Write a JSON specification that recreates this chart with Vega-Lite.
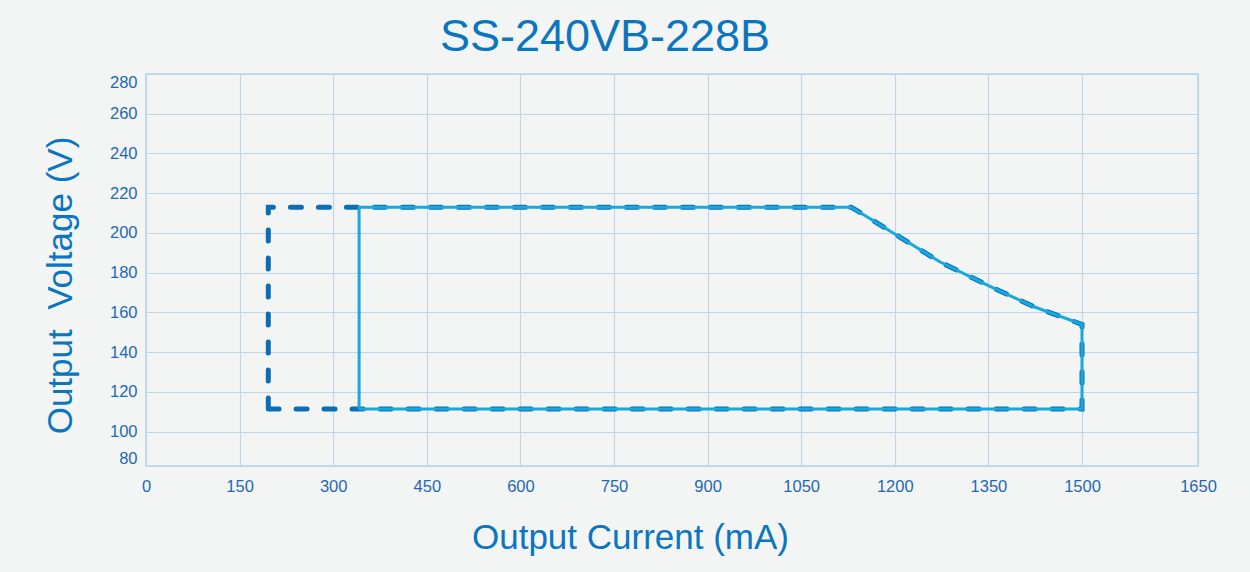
{
  "$schema": "https://vega.github.io/schema/vega-lite/v6.json",
  "width": 1052,
  "height": 392,
  "autosize": {"type": "none"},
  "padding": {"left": 146, "top": 74, "right": 52, "bottom": 106},
  "background": "#f3f5f5",
  "title": {
    "text": "SS-240VB-228B",
    "font": "Liberation Sans",
    "fontSize": 45,
    "fontWeight": "normal",
    "color": "#0b76bf",
    "anchor": "middle",
    "dx": -67,
    "dy": 44,
    "offset": 13,
    "baseline": "bottom"
  },
  "config": {
    "view": {"stroke": "#b9d1e5", "strokeWidth": 1.5},
    "axis": {
      "grid": true,
      "gridColor": "#bfd5e8",
      "gridWidth": 1.2,
      "domain": false,
      "ticks": false,
      "labelFont": "Liberation Sans",
      "labelFontSize": 16.5,
      "labelColor": "#1f68b3",
      "titleFont": "Liberation Sans",
      "titleFontSize": 35,
      "titleFontWeight": "normal",
      "titleColor": "#0b76bf"
    }
  },
  "data": {
    "values": [
      {"series": "dashed", "i": 0, "current": 196, "voltage": 111.4},
      {"series": "dashed", "i": 1, "current": 196, "voltage": 213},
      {"series": "dashed", "i": 2, "current": 1130, "voltage": 213},
      {"series": "dashed", "i": 3, "current": 1160, "voltage": 207.3},
      {"series": "dashed", "i": 4, "current": 1200, "voltage": 199.5},
      {"series": "dashed", "i": 5, "current": 1272, "voltage": 185.5},
      {"series": "dashed", "i": 6, "current": 1350, "voltage": 173.5},
      {"series": "dashed", "i": 7, "current": 1422, "voltage": 163},
      {"series": "dashed", "i": 8, "current": 1500, "voltage": 154},
      {"series": "dashed", "i": 9, "current": 1500, "voltage": 111.4},
      {"series": "dashed", "i": 10, "current": 196, "voltage": 111.4},
      {"series": "solid", "i": 0, "current": 341.5, "voltage": 111.4},
      {"series": "solid", "i": 1, "current": 341.5, "voltage": 213},
      {"series": "solid", "i": 2, "current": 1130, "voltage": 213},
      {"series": "solid", "i": 3, "current": 1160, "voltage": 207.3},
      {"series": "solid", "i": 4, "current": 1200, "voltage": 199.5},
      {"series": "solid", "i": 5, "current": 1272, "voltage": 185.5},
      {"series": "solid", "i": 6, "current": 1350, "voltage": 173.5},
      {"series": "solid", "i": 7, "current": 1422, "voltage": 163},
      {"series": "solid", "i": 8, "current": 1500, "voltage": 154},
      {"series": "solid", "i": 9, "current": 1500, "voltage": 111.4},
      {"series": "solid", "i": 10, "current": 341.5, "voltage": 111.4}
    ]
  },
  "encoding": {
    "x": {
      "field": "current",
      "type": "quantitative",
      "scale": {"domain": [0, 1500, 1650], "range": [0, 936, 1052], "nice": false, "zero": false},
      "axis": {
        "values": [0, 150, 300, 450, 600, 750, 900, 1050, 1200, 1350, 1500, 1650],
        "format": "d",
        "title": "Output Current (mA)",
        "labelPadding": 12,
        "labelFlush": false,
        "titleX": 484,
        "titleY": 82,
        "titleAlign": "center",
        "titleBaseline": "alphabetic"
      }
    },
    "y": {
      "field": "voltage",
      "type": "quantitative",
      "scale": {"domain": [80, 100, 280], "range": [392, 357.7, 0], "nice": false, "zero": false},
      "axis": {
        "values": [80, 100, 120, 140, 160, 180, 200, 220, 240, 260, 280],
        "format": "d",
        "title": "Output\u00a0 Voltage (V)",
        "labelPadding": 9,
        "labelFlush": true,
        "titleAngle": 270,
        "titleX": -74.5,
        "titleY": 211,
        "titleAlign": "center",
        "titleBaseline": "alphabetic"
      }
    },
    "order": {"field": "i", "type": "quantitative"}
  },
  "layer": [
    {
      "transform": [{"filter": "datum.series === 'dashed'"}],
      "mark": {"type": "line", "color": "#0a6db5", "strokeWidth": 5, "strokeDash": [11, 17], "strokeCap": "round"}
    },
    {
      "transform": [{"filter": "datum.series === 'solid'"}],
      "mark": {"type": "line", "color": "#18a8e0", "strokeWidth": 3}
    }
  ]
}
